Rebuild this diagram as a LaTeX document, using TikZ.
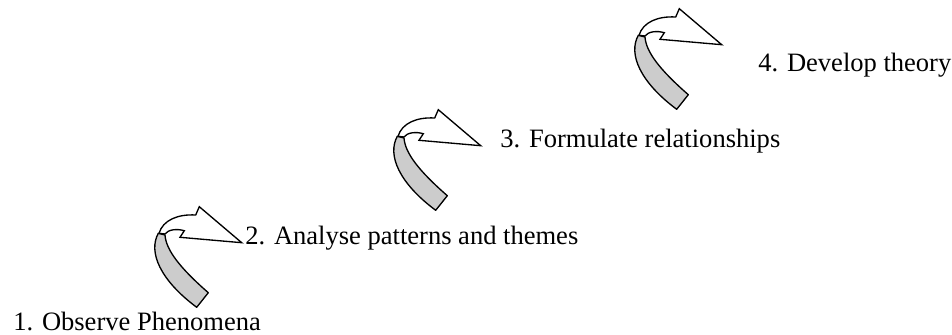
\documentclass[tikz,border=0pt]{standalone}
\usepackage{fontspec}
\setmainfont{Liberation Serif}
\usetikzlibrary{positioning}
\definecolor{curlGray}{HTML}{CCCCCC}

\begin{document}
\begin{tikzpicture}[
    x=0.75pt, y=-0.75pt,
    band/.style={
        draw=black, line width=1pt, fill=curlGray, line join=round
    },
    head/.style={
        draw=black, line width=1pt, fill=white, line join=miter
    },
    lbl/.style={
        font=\fontsize{19.9}{24}\selectfont, anchor=base west, inner sep=0pt
    },
    curl/.pic={
        % back of the ribbon
        \path[band] (158.3,233.3) .. controls (148,252) and (160,280) .. (196.7,307.3)
            -- (208.3,292.7) .. controls (180,268) and (166,250) .. (165,235) -- cycle;
        % front of the ribbon and arrow head
        \path[head] (159,233.3) .. controls (163,220) and (178,214) .. (195.7,215)
            -- (199.3,206.7) -- (241.7,242.7) -- (180,237.3) -- (184.3,230.7)
            .. controls (177,228.5) and (168,229.5) .. (165,234) -- cycle;
        \coordinate (-tip) at (241.7,242.7);
    }
]
\useasboundingbox (0,0) rectangle (952,335);

% === Arrows ===
\pic (c1) at (0,0) {curl};
\pic (c2) at (239,-97) {curl};
\pic (c3) at (480,-198) {curl};

% === Steps ===
\node[lbl] (observe) at (13,330) {1. Observe Phenomena};
\node[lbl] (analyse) at (245,244) {2. Analyse patterns and themes};
\node[lbl] (formulate) at (500,147) {3. Formulate relationships};
\node[lbl] (develop) at (758,72) {4. Develop theory};

\end{tikzpicture}
\end{document}
